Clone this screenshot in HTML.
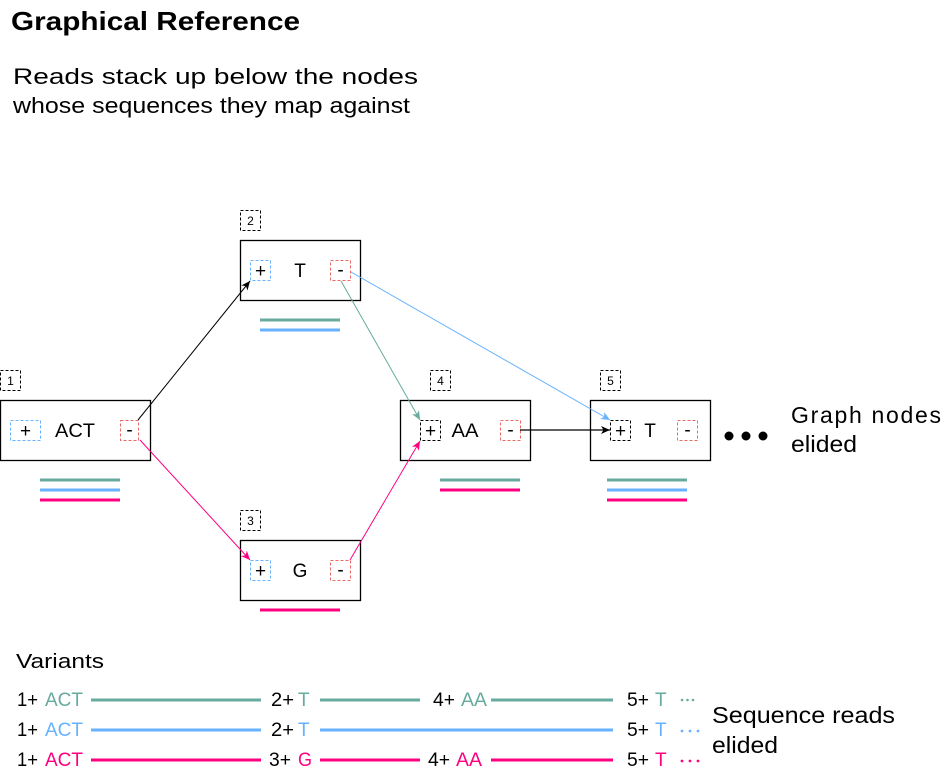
<!DOCTYPE html>
<html><head><meta charset="utf-8"><style>
html,body{margin:0;padding:0;background:#fff;width:951px;height:773px;overflow:hidden}
svg{display:block;font-family:"Liberation Sans",Arial,sans-serif}
</style></head><body>
<svg width="951" height="773" viewBox="0 0 951 773" xmlns="http://www.w3.org/2000/svg">
<defs>
<marker id="aK" markerWidth="10" markerHeight="10" refX="9" refY="5" orient="auto" markerUnits="userSpaceOnUse"><path d="M0,1 L9,5 L0,9 L2.5,5 Z" fill="#000"/></marker>
<marker id="aP" markerWidth="10" markerHeight="10" refX="9" refY="5" orient="auto" markerUnits="userSpaceOnUse"><path d="M0,1 L9,5 L0,9 L2.5,5 Z" fill="#FF0080"/></marker>
<marker id="aG" markerWidth="10" markerHeight="10" refX="9" refY="5" orient="auto" markerUnits="userSpaceOnUse"><path d="M0,1 L9,5 L0,9 L2.5,5 Z" fill="#67AB9F"/></marker>
<marker id="aB" markerWidth="10" markerHeight="10" refX="9" refY="5" orient="auto" markerUnits="userSpaceOnUse"><path d="M0,1 L9,5 L0,9 L2.5,5 Z" fill="#66B2FF"/></marker>
</defs>

<text x="11" y="30" font-size="26" font-weight="bold" textLength="289" lengthAdjust="spacingAndGlyphs">Graphical Reference</text>
<text x="13" y="84" font-size="22" textLength="405" lengthAdjust="spacingAndGlyphs">Reads stack up below the nodes</text>
<text x="13" y="113" font-size="22" textLength="397" lengthAdjust="spacingAndGlyphs">whose sequences they map against</text>

<g fill="none" stroke="#000" stroke-width="1" stroke-dasharray="3,2">
<rect x="0.5" y="370.5" width="20" height="20"/>
<rect x="240.5" y="210.5" width="20" height="20"/>
<rect x="240.5" y="510.5" width="20" height="20"/>
<rect x="430.5" y="370.5" width="20" height="20"/>
<rect x="600.5" y="370.5" width="20" height="20"/>
</g>
<g font-size="12" text-anchor="middle">
<text x="10.5" y="385">1</text><text x="250.5" y="225">2</text><text x="250.5" y="525">3</text><text x="440.5" y="385">4</text><text x="610.5" y="385">5</text>
</g>

<g fill="#fff" stroke="#000" stroke-width="1.3">
<rect x="0.5" y="400.5" width="150" height="60"/>
<rect x="240.5" y="240.5" width="120" height="60"/>
<rect x="240.5" y="540.5" width="120" height="60"/>
<rect x="400.5" y="400.5" width="130" height="60"/>
<rect x="590.5" y="400.5" width="120" height="60"/>
</g>
<g fill="none" stroke-width="1" stroke-dasharray="3,2">
<rect x="10.5" y="420.5" width="30" height="20" stroke="#66B2FF"/>
<rect x="120.5" y="420.5" width="18" height="20" stroke="#EA6B66"/>
<rect x="250.5" y="260.5" width="20" height="20" stroke="#66B2FF"/>
<rect x="330.5" y="260.5" width="20" height="20" stroke="#EA6B66"/>
<rect x="250.5" y="560.5" width="20" height="20" stroke="#66B2FF"/>
<rect x="330.5" y="560.5" width="20" height="20" stroke="#EA6B66"/>
<rect x="500.5" y="420.5" width="20" height="20" stroke="#EA6B66"/>
<rect x="677.5" y="420.5" width="20" height="20" stroke="#EA6B66"/>
<rect x="420.5" y="420.5" width="20" height="20" stroke="#000"/>
<rect x="610.5" y="420.5" width="20" height="20" stroke="#000"/>
</g>
<g font-size="19" text-anchor="middle">
<text x="25.5" y="437">+</text><text x="129.5" y="436">-</text><text x="75" y="437" textLength="40" lengthAdjust="spacingAndGlyphs">ACT</text>
<text x="260.5" y="277">+</text><text x="340.5" y="276">-</text><text x="300" y="277">T</text>
<text x="260.5" y="577">+</text><text x="340.5" y="576">-</text><text x="300" y="577">G</text>
<text x="430.5" y="437">+</text><text x="510.5" y="436">-</text><text x="465" y="437" textLength="27" lengthAdjust="spacingAndGlyphs">AA</text>
<text x="620.5" y="437">+</text><text x="687.5" y="436">-</text><text x="650" y="437">T</text>
</g>

<g stroke-width="1">
<line x1="138" y1="420" x2="250" y2="281" stroke="#000" marker-end="url(#aK)"/>
<line x1="140" y1="440" x2="250" y2="560" stroke="#FF0080" marker-end="url(#aP)"/>
<line x1="341" y1="281" x2="420" y2="420" stroke="#67AB9F" marker-end="url(#aG)"/>
<line x1="351" y1="272" x2="610" y2="420" stroke="#66B2FF" marker-end="url(#aB)"/>
<line x1="350" y1="560" x2="420" y2="441" stroke="#FF0080" marker-end="url(#aP)"/>
<line x1="520" y1="430" x2="610" y2="430" stroke="#000" stroke-width="1.3" marker-end="url(#aK)"/>
</g>

<g stroke-width="3">
<line x1="40" y1="480" x2="120" y2="480" stroke="#67AB9F"/>
<line x1="40" y1="490" x2="120" y2="490" stroke="#66B2FF"/>
<line x1="40" y1="500" x2="120" y2="500" stroke="#FF0080"/>
<line x1="260" y1="320" x2="340" y2="320" stroke="#67AB9F"/>
<line x1="260" y1="330" x2="340" y2="330" stroke="#66B2FF"/>
<line x1="260" y1="610" x2="340" y2="610" stroke="#FF0080"/>
<line x1="440" y1="480" x2="520" y2="480" stroke="#67AB9F"/>
<line x1="440" y1="490" x2="520" y2="490" stroke="#FF0080"/>
<line x1="607" y1="480" x2="687" y2="480" stroke="#67AB9F"/>
<line x1="607" y1="490" x2="687" y2="490" stroke="#66B2FF"/>
<line x1="607" y1="500" x2="687" y2="500" stroke="#FF0080"/>
</g>

<circle cx="729" cy="436" r="4.5"/><circle cx="746" cy="436" r="4.5"/><circle cx="763" cy="436" r="4.5"/>
<text x="791" y="423" font-size="23" textLength="150" lengthAdjust="spacing">Graph nodes</text>
<text x="791" y="452" font-size="23" textLength="66" lengthAdjust="spacingAndGlyphs">elided</text>

<text x="16" y="668" font-size="20" textLength="88" lengthAdjust="spacingAndGlyphs">Variants</text>

<g font-size="19" lengthAdjust="spacingAndGlyphs">
<text x="17" y="706" textLength="21" lengthAdjust="spacingAndGlyphs">1+</text><text x="45" y="706" fill="#67AB9F" textLength="38" lengthAdjust="spacingAndGlyphs">ACT</text>
<text x="271" y="706" textLength="23" lengthAdjust="spacingAndGlyphs">2+</text><text x="298" y="706" fill="#67AB9F">T</text>
<text x="433" y="706" textLength="22" lengthAdjust="spacingAndGlyphs">4+</text><text x="461" y="706" fill="#67AB9F" textLength="26" lengthAdjust="spacingAndGlyphs">AA</text>
<text x="627" y="706" textLength="22" lengthAdjust="spacingAndGlyphs">5+</text><text x="655" y="706" fill="#67AB9F">T</text>

<text x="17" y="736" textLength="21" lengthAdjust="spacingAndGlyphs">1+</text><text x="45" y="736" fill="#66B2FF" textLength="38" lengthAdjust="spacingAndGlyphs">ACT</text>
<text x="271" y="736" textLength="23" lengthAdjust="spacingAndGlyphs">2+</text><text x="298" y="736" fill="#66B2FF">T</text>
<text x="627" y="736" textLength="22" lengthAdjust="spacingAndGlyphs">5+</text><text x="655" y="736" fill="#66B2FF">T</text>

<text x="17" y="766" textLength="21" lengthAdjust="spacingAndGlyphs">1+</text><text x="45" y="766" fill="#FF0080" textLength="38" lengthAdjust="spacingAndGlyphs">ACT</text>
<text x="269" y="766" textLength="22" lengthAdjust="spacingAndGlyphs">3+</text><text x="298" y="766" fill="#FF0080" textLength="14" lengthAdjust="spacingAndGlyphs">G</text>
<text x="428" y="766" textLength="22" lengthAdjust="spacingAndGlyphs">4+</text><text x="456" y="766" fill="#FF0080" textLength="26" lengthAdjust="spacingAndGlyphs">AA</text>
<text x="627" y="766" textLength="22" lengthAdjust="spacingAndGlyphs">5+</text><text x="655" y="766" fill="#FF0080">T</text>
</g>
<g stroke-width="3">
<line x1="91" y1="700" x2="261" y2="700" stroke="#67AB9F"/>
<line x1="320" y1="700" x2="420" y2="700" stroke="#67AB9F"/>
<line x1="491" y1="700" x2="613" y2="700" stroke="#67AB9F"/>
<line x1="91" y1="730" x2="261" y2="730" stroke="#66B2FF"/>
<line x1="320" y1="730" x2="613" y2="730" stroke="#66B2FF"/>
<line x1="91" y1="760" x2="261" y2="760" stroke="#FF0080"/>
<line x1="320" y1="760" x2="420" y2="760" stroke="#FF0080"/>
<line x1="491" y1="760" x2="613" y2="760" stroke="#FF0080"/>
</g>
<g>
<circle cx="682" cy="700" r="1.3" fill="#67AB9F"/><circle cx="687.5" cy="700" r="1.3" fill="#67AB9F"/><circle cx="693" cy="700" r="1.3" fill="#67AB9F"/>
<circle cx="682" cy="731" r="1.4" fill="#66B2FF"/><circle cx="690" cy="731" r="1.4" fill="#66B2FF"/><circle cx="698" cy="731" r="1.4" fill="#66B2FF"/>
<circle cx="682" cy="761" r="1.4" fill="#FF0080"/><circle cx="690" cy="761" r="1.4" fill="#FF0080"/><circle cx="698" cy="761" r="1.4" fill="#FF0080"/>
</g>
<text x="712" y="723" font-size="23" textLength="183" lengthAdjust="spacingAndGlyphs">Sequence reads</text>
<text x="712" y="753" font-size="23" textLength="66" lengthAdjust="spacingAndGlyphs">elided</text>
</svg>
</body></html>
